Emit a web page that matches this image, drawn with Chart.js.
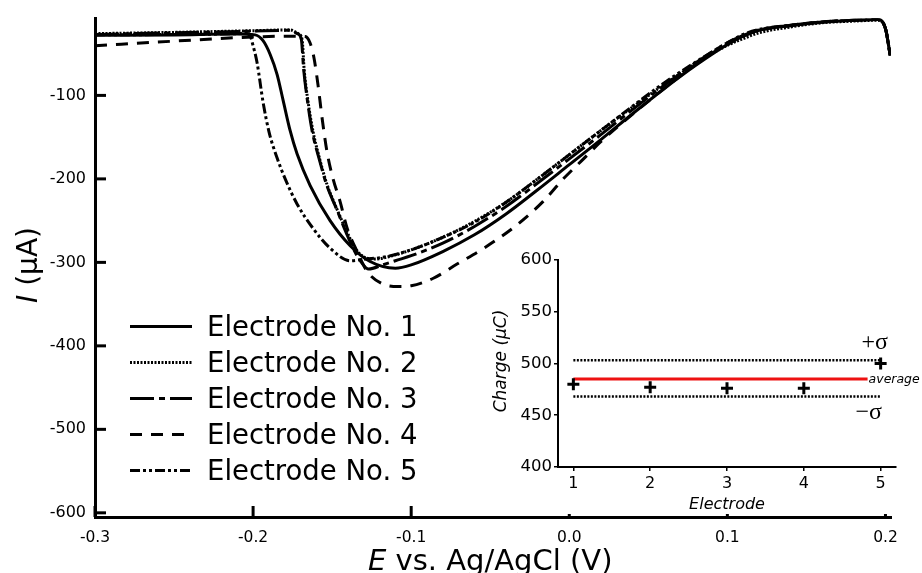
<!DOCTYPE html>
<html>
<head>
<meta charset="utf-8">
<script src="https://cdn.jsdelivr.net/npm/chart.js@4.4.0/dist/chart.umd.min.js"></script>
<style>
html, body { margin: 0; padding: 0; background: #fff; }
#wrap { position: relative; width: 922px; height: 573px; overflow: hidden; }
#main { position: absolute; left: 0; top: 0; }
#insetBox { position: absolute; left: 488px; top: 248px; width: 434px; height: 266px; background: #fff; }
</style>
</head>
<body>
<div id="wrap">
  <canvas id="main" width="922" height="573"></canvas>
  <div id="insetBox"><canvas id="inset" width="434" height="266"></canvas></div>
</div>
<script>
// main plot: current (uA) vs potential (V) for the five electrodes
const labels = ['Electrode No. 1', 'Electrode No. 2', 'Electrode No. 3', 'Electrode No. 4', 'Electrode No. 5'];
const xTicks = [-0.3, -0.2, -0.1, 0.0, 0.1, 0.2];
const yTicks = [-600, -500, -400, -300, -200, -100];

const potential1 = [-0.3,-0.25,-0.21,-0.1987,-0.1937,-0.1892,-0.1848,-0.181,-0.1766,-0.1722,-0.1639,-0.1513,-0.1386,-0.126,-0.11,-0.1,-0.08,-0.06,-0.04,-0.02,0,0.02,0.04,0.06,0.08,0.1,0.11,0.12,0.14,0.16,0.18,0.195,0.2,0.203];
const current1 = [-28,-27.5,-26.5,-27.5,-34.5,-51,-75,-106,-142,-170,-208,-250,-280,-299,-307,-303,-287,-267,-242,-213,-183,-153,-122,-92,-64,-39,-29,-22,-16.5,-12.5,-10,-9,-20,-52];

const potential2 = [-0.3,-0.25,-0.2,-0.1766,-0.1715,-0.169,-0.1677,-0.1652,-0.162,-0.1582,-0.1532,-0.1468,-0.1405,-0.1354,-0.1304,-0.1228,-0.11,-0.1,-0.08,-0.06,-0.04,-0.02,0,0.02,0.04,0.06,0.08,0.1,0.11,0.12,0.14,0.16,0.18,0.195,0.2,0.203];
const current2 = [-26,-24.5,-22.5,-21.5,-26,-33,-69,-108,-144,-174,-207,-237,-264,-283,-293,-296,-291,-285,-270,-251,-228,-200,-171,-142,-114,-87,-62,-40,-32,-25,-18,-13,-11,-10,-20,-52];

const potential3 = [-0.3,-0.25,-0.2,-0.178,-0.172,-0.1695,-0.168,-0.1655,-0.1625,-0.1585,-0.1535,-0.147,-0.141,-0.136,-0.1315,-0.127,-0.118,-0.11,-0.1,-0.08,-0.06,-0.04,-0.02,0,0.02,0.04,0.06,0.08,0.1,0.11,0.12,0.14,0.16,0.18,0.195,0.2,0.203];
const current3 = [-27,-25,-23,-22,-26,-33,-69,-108,-144,-174,-207,-237,-265,-286,-300,-308,-303,-298,-292,-277,-257,-233,-205,-176,-147,-117,-88,-61,-37,-28,-21.5,-16,-12,-10,-9,-20,-52];

const potential4 = [-0.3,-0.25,-0.2,-0.175,-0.167,-0.164,-0.1615,-0.1589,-0.1563,-0.1532,-0.1494,-0.145,-0.1405,-0.1342,-0.1278,-0.1177,-0.108,-0.1,-0.086,-0.071,-0.054,-0.033,-0.0165,-0.0038,0.009,0.0196,0.0468,0.07,0.09,0.1,0.11,0.12,0.14,0.16,0.18,0.195,0.2,0.203];
const current4 = [-40.5,-35,-30,-29,-29.5,-37,-55,-88,-128,-168,-200,-227,-259,-287,-311,-326,-329,-328,-319,-302,-283,-255,-227,-200,-176,-156,-112,-77,-50,-39,-29,-22,-16,-12,-10,-9,-20,-52];

const potential5 = [-0.3,-0.25,-0.21,-0.2051,-0.2019,-0.2,-0.1975,-0.1937,-0.1899,-0.1848,-0.1797,-0.1722,-0.162,-0.1513,-0.1386,-0.1291,-0.118,-0.1,-0.08,-0.06,-0.04,-0.02,0,0.02,0.04,0.06,0.08,0.1,0.11,0.12,0.14,0.16,0.18,0.195,0.2,0.203];
const current5 = [-27.5,-27,-26,-25.5,-28.6,-40.5,-60.7,-108,-144,-175,-200,-230,-259.5,-283,-298,-296,-294,-285,-270,-252,-228,-200,-171,-142,-113,-85,-60,-37,-27,-21,-16,-12,-10,-9,-20,-52];

// inset: charge per electrode
const electrodes = [1, 2, 3, 4, 5];
const charges = [480, 477, 476, 476, 500];
const chargeAverage = 485;
const sigmaUpper = 503;
const sigmaLower = 468;
const chargeTicks = [400, 450, 500, 550, 600];

const FONT = 'DejaVu Sans';
const dashes = [[], [2, 1.5], [24, 5, 6, 5], [12, 9], [10, 3, 3, 3, 3, 3]];

function pts(xs, ys) {
    return xs.map((x, i) => ({ x: x, y: ys[i] }));
}

const series = [
    pts(potential1, current1),
    pts(potential2, current2),
    pts(potential3, current3),
    pts(potential4, current4),
    pts(potential5, current5)
];

const mainExtras = {
    id: 'mainExtras',
    afterDraw(chart) {
        const ctx = chart.ctx;
        const a = chart.chartArea;
        const xs = chart.scales.x, ys = chart.scales.y;
        ctx.save();
        // inward ticks
        ctx.strokeStyle = '#000';
        ctx.lineWidth = 3;
        xs.ticks.forEach(t => {
            const px = xs.getPixelForValue(t.value);
            ctx.beginPath();
            ctx.moveTo(px, a.bottom);
            ctx.lineTo(px, a.bottom - 11);
            ctx.stroke();
        });
        ys.ticks.forEach(t => {
            const py = ys.getPixelForValue(t.value);
            ctx.beginPath();
            ctx.moveTo(a.left, py);
            ctx.lineTo(a.left + 11, py);
            ctx.stroke();
        });

        // x title
        ctx.fillStyle = '#000';
        ctx.textBaseline = 'alphabetic';
        ctx.textAlign = 'left';
        ctx.font = 'italic 29px "' + FONT + '"';
        const ew = ctx.measureText('E').width;
        ctx.fillText('E', 368, 570);
        ctx.font = '29px "' + FONT + '"';
        ctx.fillText(' vs. Ag/AgCl (V)', 368 + ew, 570);

        // y title
        ctx.save();
        ctx.translate(37, 265);
        ctx.rotate(-Math.PI / 2);
        ctx.font = 'italic 28px "' + FONT + '"';
        const iw = ctx.measureText('I').width;
        ctx.font = '28px "' + FONT + '"';
        const rw = ctx.measureText(' (\u03bcA)').width;
        const start = -(iw + rw) / 2;
        ctx.font = 'italic 28px "' + FONT + '"';
        ctx.fillText('I', start, 0);
        ctx.font = '28px "' + FONT + '"';
        ctx.fillText(' (\u03bcA)', start + iw, 0);
        ctx.restore();

        // legend
        chart.data.datasets.forEach((ds, i) => {
            const base = 336 + i * 36;
            ctx.save();
            ctx.lineWidth = ds.borderWidth;
            ctx.setLineDash(ds.borderDash);
            ctx.beginPath();
            ctx.moveTo(130, base - 9.5);
            ctx.lineTo(192, base - 9.5);
            ctx.stroke();
            ctx.restore();
            ctx.font = '27.5px "' + FONT + '"';
            ctx.fillText(ds.label, 207, base);
        });
        ctx.restore();
    }
};

new Chart(document.getElementById('main'), {
    type: 'line',
    data: {
        datasets: series.map((d, i) => ({
            label: labels[i],
            data: d,
            borderColor: '#000',
            borderWidth: 3,
            borderDash: dashes[i],
            pointRadius: 0,
            fill: false,
            cubicInterpolationMode: 'monotone'
        }))
    },
    options: {
        responsive: false,
        animation: false,
        layout: { padding: { left: 0, top: 17, right: 31, bottom: 0 } },
        plugins: { legend: { display: false }, tooltip: { enabled: false } },
        scales: {
            x: {
                type: 'linear',
                min: -0.3,
                max: 0.2035,
                afterFit(s) { s.height = 56; },
                afterBuildTicks(s) { s.ticks = xTicks.map(v => ({ value: v })); },
                border: { display: true, width: 3, color: '#000' },
                grid: { display: false, drawTicks: false },
                ticks: {
                    autoSkip: false,
                    maxRotation: 0,
                    padding: 12,
                    color: '#000',
                    font: { family: FONT, size: 15.5 },
                    callback: v => (Math.abs(v) < 1e-9 ? 0 : v).toFixed(1)
                }
            },
            y: {
                type: 'linear',
                min: -605,
                max: -8,
                afterFit(s) { s.width = 95; },
                afterBuildTicks(s) { s.ticks = yTicks.map(v => ({ value: v })); },
                border: { display: true, width: 3, color: '#000' },
                grid: { display: false, drawTicks: false },
                ticks: {
                    autoSkip: false,
                    padding: 9,
                    color: '#000',
                    font: { family: FONT, size: 16 },
                    callback: v => String(v)
                }
            }
        }
    },
    plugins: [mainExtras]
});

// inset
const insetExtras = {
    id: 'insetExtras',
    afterDraw(chart) {
        const ctx = chart.ctx;
        const xs = chart.scales.x, ys = chart.scales.y;
        const a = chart.chartArea;
        ctx.save();
        ctx.fillStyle = '#000';

        // y title
        ctx.save();
        ctx.translate(18, 113);
        ctx.rotate(-Math.PI / 2);
        ctx.textAlign = 'center';
        ctx.textBaseline = 'alphabetic';
        ctx.font = 'italic 17px "' + FONT + '"';
        ctx.fillText('Charge (\u03bcC)', 0, 0);
        ctx.restore();

        // x title
        ctx.textAlign = 'center';
        ctx.textBaseline = 'alphabetic';
        ctx.font = 'italic 16px "' + FONT + '"';
        ctx.fillText('Electrode', (a.left + a.right) / 2, 261);

        // sigma / average labels
        const xr = xs.getPixelForValue(5);
        ctx.font = '24px "Liberation Serif"';
        ctx.textBaseline = 'middle';
        ctx.fillText('+\u03c3', xr - 6, ys.getPixelForValue(sigmaUpper) - 18);
        ctx.fillText('\u2212\u03c3', xr - 12, ys.getPixelForValue(sigmaLower) + 16);
        ctx.textAlign = 'left';
        ctx.font = 'italic 12.5px "' + FONT + '"';
        ctx.fillText('average', xs.getPixelForValue(4.83) + 1, ys.getPixelForValue(chargeAverage) + 1);
        ctx.restore();
    }
};

new Chart(document.getElementById('inset'), {
    type: 'scatter',
    data: {
        datasets: [
            {
                data: pts(electrodes, charges),
                pointStyle: 'cross',
                pointRadius: 6,
                borderWidth: 3,
                borderColor: '#000',
                backgroundColor: '#000',
                showLine: false
            },
            {
                data: [{ x: electrodes[0], y: chargeAverage }, { x: 4.83, y: chargeAverage }],
                showLine: true,
                borderColor: '#ee1111',
                borderWidth: 3,
                pointRadius: 0
            },
            {
                data: [{ x: electrodes[0], y: sigmaUpper }, { x: electrodes[4], y: sigmaUpper }],
                showLine: true,
                borderColor: '#000',
                borderWidth: 2.5,
                borderDash: [2, 1.5],
                pointRadius: 0
            },
            {
                data: [{ x: electrodes[0], y: sigmaLower }, { x: electrodes[4], y: sigmaLower }],
                showLine: true,
                borderColor: '#000',
                borderWidth: 2.5,
                borderDash: [2, 1.5],
                pointRadius: 0
            }
        ]
    },
    options: {
        responsive: false,
        animation: false,
        layout: { padding: { left: 0, top: 9, right: 26, bottom: 0 } },
        plugins: { legend: { display: false }, tooltip: { enabled: false } },
        scales: {
            x: {
                type: 'linear',
                min: 0.8,
                max: 5.2,
                afterFit(s) { s.height = 47; },
                afterBuildTicks(s) { s.ticks = electrodes.map(v => ({ value: v })); },
                border: { display: true, width: 2, color: '#000' },
                grid: { drawOnChartArea: false, drawTicks: true, tickLength: 4, color: '#000', lineWidth: 1.5 },
                ticks: {
                    padding: 3,
                    color: '#000',
                    font: { family: FONT, size: 16 }
                }
            },
            y: {
                type: 'linear',
                min: 400,
                max: 600,
                afterFit(s) { s.width = 70; },
                afterBuildTicks(s) { s.ticks = chargeTicks.map(v => ({ value: v })); },
                border: { display: true, width: 2, color: '#000' },
                grid: { drawOnChartArea: false, drawTicks: true, tickLength: 4, color: '#000', lineWidth: 1.5 },
                ticks: {
                    padding: 2,
                    color: '#000',
                    font: { family: FONT, size: 16.5 }
                }
            }
        }
    },
    plugins: [insetExtras]
});
</script>
</body>
</html>
